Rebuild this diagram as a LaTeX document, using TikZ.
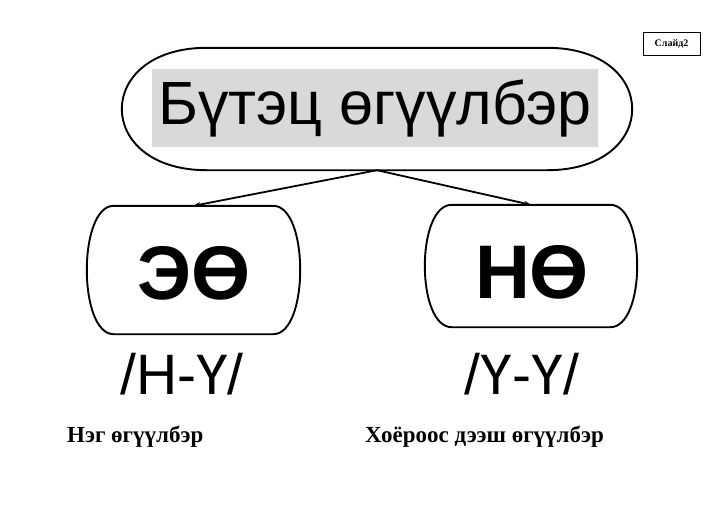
\documentclass[tikz,border=0pt]{standalone}
\usepackage{fontspec}
\setmainfont{Liberation Serif}
\setsansfont{Liberation Sans}
\usetikzlibrary{arrows.meta,positioning}

\tikzset{
  capsule/.style={draw=none, inner sep=0pt},
  kind/.style={inner sep=0pt, font=\sffamily\bfseries\fontsize{76}{76}\selectfont},
  formula/.style={inner sep=0pt, font=\sffamily\fontsize{57}{57}\selectfont},
  kindname/.style={anchor=base west, inner sep=0pt, font=\bfseries\fontsize{23}{23}\selectfont},
  outline/.style={line width=1.9pt},
  link/.style={line width=1.8pt, -{Stealth[length=7pt,width=5pt]}},
}

% rounded outline round a node: \capsule{node}{inset}
\newcommand{\capsule}[2]{%
  \draw[outline] ([xshift=#2]#1.north west) -- ([xshift=-#2]#1.north east)
    .. controls ([xshift=#2/3]#1.north east) and ([xshift=#2/3]#1.south east) .. ([xshift=-#2]#1.south east)
    -- ([xshift=#2]#1.south west)
    .. controls ([xshift=-#2/3]#1.south west) and ([xshift=-#2/3]#1.north west) .. cycle;}

\begin{document}
\begin{tikzpicture}[x=1pt,y=-1pt]
  \useasboundingbox (0,0) rectangle (728,515);

  % top: the compound sentence
  \node[capsule, minimum width=510pt, minimum height=122pt] (frame) at (377,109) {};
  \node[fill=black!15, inner sep=0pt, minimum width=446pt, minimum height=78pt,
        font=\sffamily\fontsize{61}{61}\selectfont] (title) at (375,108) {Бүтэц өгүүлбэр};
  \capsule{frame}{85}

  % the two kinds
  \node[capsule, minimum width=213pt, minimum height=128pt] (eo) at (193.5,270) {};
  \node[capsule, minimum width=212pt, minimum height=122pt] (no) at (531,266) {};
  \capsule{eo}{27}
  \capsule{no}{27}
  \node[kind] (eotext) at (194,273) {ЭӨ};
  \node[kind] (notext) at (532,272) {НӨ};

  \draw[link] (frame.south) -- (eo.north);
  \draw[link] (frame.south) -- (no.north);

  % formulas and names
  \node[formula] (eoform) at (182,374) {/Н-Ү/};
  \node[formula] (noform) at (522,374) {/Ү-Ү/};
  \node[kindname] (eoname) at (67,442) {Нэг өгүүлбэр};
  \node[kindname] (noname) at (365,442) {Хоёроос дээш өгүүлбэр};

  % slide tag
  \node[draw, line width=0.8pt, minimum width=57pt, minimum height=23pt,
        font=\bfseries\fontsize{10}{10}\selectfont] (slide) at (671.5,43.5) {Слайд2};
\end{tikzpicture}
\end{document}
